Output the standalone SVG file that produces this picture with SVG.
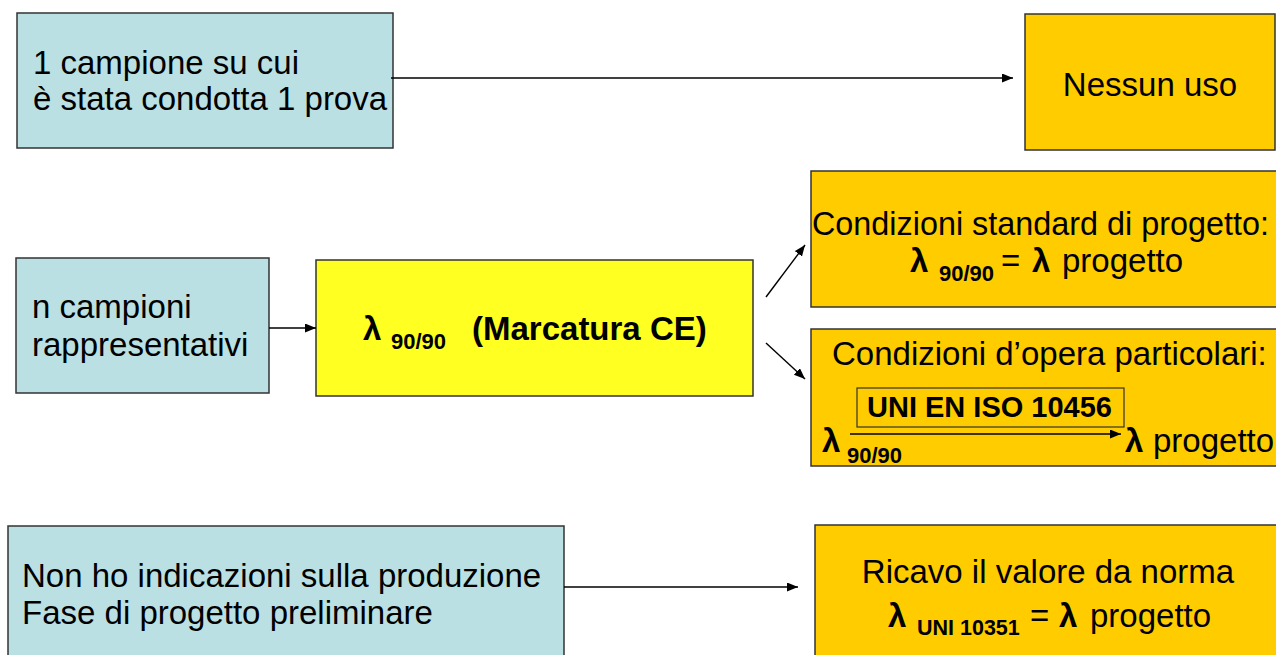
<svg xmlns="http://www.w3.org/2000/svg" width="1276" height="655" viewBox="0 0 1276 655">
<style>
text{font-family:"Liberation Sans",Arial,sans-serif;font-size:33px;fill:#000}
.b{font-weight:bold}
.sub{font-size:22px;font-weight:bold}
.blue{fill:#BBE0E3;stroke:#333;stroke-width:1.5}
.gold{fill:#FFCC00;stroke:#333;stroke-width:1.5}
.yel{fill:#FFFF21;stroke:#333;stroke-width:1.5}
.con{stroke:#000;stroke-width:1.4;fill:none;marker-end:url(#ah)}
</style>
<defs>
<marker id="ah" markerUnits="userSpaceOnUse" markerWidth="12" markerHeight="10" refX="11" refY="4.5" orient="auto">
<path d="M0,0 L11,4.5 L0,9 z" fill="#000"/>
</marker>
</defs>
<g id="n1">
<rect class="blue" x="17" y="13" width="376" height="135"/>
<text x="33" y="74">1 campione su cui</text>
<text x="33" y="110">è stata condotta 1 prova</text>
</g>
<g id="n2">
<rect class="gold" x="1025" y="14" width="250" height="136"/>
<text x="1150" y="96" text-anchor="middle">Nessun uso</text>
</g>
<g id="n3">
<rect class="blue" x="16" y="258" width="253" height="135"/>
<text x="32" y="318">n campioni</text>
<text x="32" y="356">rappresentativi</text>
</g>
<g id="n4">
<rect class="yel" x="316" y="260" width="437" height="136"/>
<text x="363" y="340" class="b">λ</text>
<text x="391" y="349" class="sub">90/90</text>
<text x="472" y="340" class="b">(Marcatura CE)</text>
</g>
<g id="n5">
<rect class="gold" x="811" y="171" width="475" height="136"/>
<text x="812" y="235" textLength="457" lengthAdjust="spacingAndGlyphs">Condizioni standard di progetto:</text>
<text x="910" y="272" class="b">λ</text>
<text x="939" y="281" class="sub">90/90</text>
<text x="1001" y="272">=</text>
<text x="1032" y="272" class="b">λ</text>
<text x="1062" y="272">progetto</text>
</g>
<g id="n6">
<rect class="gold" x="811" y="329" width="475" height="137"/>
<text x="832" y="365">Condizioni d’opera particolari:</text>
<rect x="857" y="388" width="267" height="39" fill="none" stroke="#333" stroke-width="1.2"/>
<text x="867" y="417" class="b" style="font-size:29px">UNI EN ISO 10456</text>
<line x1="850" y1="434" x2="1121" y2="434" stroke="#000" stroke-width="1.4" marker-end="url(#ah)"/>
<text x="822" y="452" class="b">λ</text>
<text x="847" y="463" class="sub">90/90</text>
<text x="1125" y="452" class="b">λ</text>
<text x="1153" y="452">progetto</text>
</g>
<g id="n7">
<rect class="blue" x="8" y="526" width="556" height="140"/>
<text x="22" y="587">Non ho indicazioni sulla produzione</text>
<text x="22" y="624">Fase di progetto preliminare</text>
</g>
<g id="n8">
<rect class="gold" x="815" y="525" width="475" height="140"/>
<text x="1048" y="583" text-anchor="middle">Ricavo il valore da norma</text>
<text x="888" y="627" class="b">λ</text>
<text x="917" y="635" class="sub" style="font-size:21.5px">UNI 10351</text>
<text x="1030" y="627">=</text>
<text x="1059" y="627" class="b">λ</text>
<text x="1090" y="627">progetto</text>
</g>
<g id="connectors">
<line class="con" x1="391" y1="78" x2="1013" y2="78"/>
<line class="con" x1="269" y1="328" x2="316" y2="328"/>
<line class="con" x1="766" y1="297" x2="805" y2="245"/>
<line class="con" x1="766" y1="343" x2="805" y2="379"/>
<line class="con" x1="564" y1="587" x2="798" y2="587"/>
</g>
</svg>
